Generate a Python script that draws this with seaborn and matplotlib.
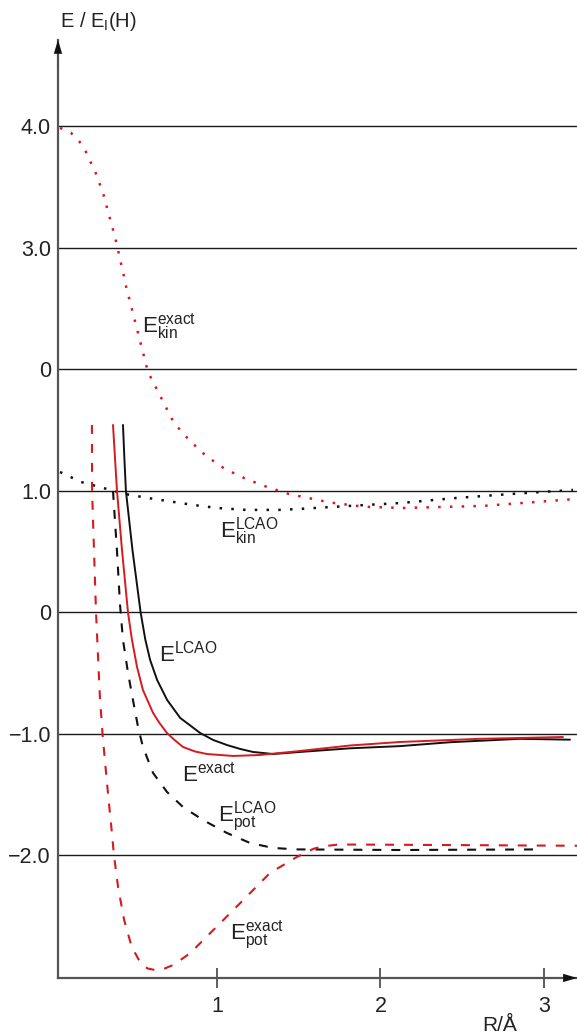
import matplotlib
matplotlib.use('Agg')
import matplotlib.pyplot as plt
import seaborn as sns

# ---------------- data ----------------
# R in Angstrom, E in units of E_I(H)
ekin_exact_r = [0.040, 0.107, 0.156, 0.193, 0.223, 0.254, 0.278, 0.303, 0.321, 0.339, 0.358, 0.376,
                0.394, 0.407, 0.425, 0.437, 0.578, 0.737, 0.829, 0.933, 1.049, 1.177, 1.306, 1.440,
                1.691, 1.900, 2.138, 2.630, 3.196]
ekin_exact_e = [3.988, 3.947, 3.881, 3.807, 3.716, 3.634, 3.543, 3.453, 3.362, 3.272, 3.181, 3.091,
                2.992, 2.901, 2.811, 2.720, 1.979, 1.560, 1.420, 1.288, 1.181, 1.099, 1.033, 0.975,
                0.905, 0.870, 0.860, 0.877, 0.934]

ekin_lcao_r = [0.040, 0.168, 0.303, 0.437, 0.578, 0.737, 0.853, 1.000, 1.177, 1.379, 1.502,
               1.813, 2.125, 2.462, 2.798, 3.178]
ekin_lcao_e = [1.156, 1.074, 1.025, 0.975, 0.942, 0.909, 0.885, 0.860, 0.844, 0.844, 0.852,
               0.877, 0.901, 0.942, 0.975, 1.008]

e_lcao_r = [0.425, 0.434, 0.443, 0.483, 0.533, 0.562, 0.591, 0.634, 0.695, 0.775, 0.897, 0.976,
            1.061, 1.141, 1.220, 1.343, 1.508, 1.813, 2.119, 2.425, 2.853, 3.159]
e_lcao_e = [1.543, 1.255, 1.000, 0.514, 0.000, -0.226, -0.391, -0.556, -0.720, -0.868, -0.992,
            -1.049, -1.091, -1.123, -1.148, -1.165, -1.148, -1.118, -1.100, -1.068, -1.040, -1.047]

e_exact_r = [0.364, 0.388, 0.419, 0.456, 0.480, 0.511, 0.547, 0.609, 0.648, 0.694, 0.740, 0.792,
             0.865, 0.939, 1.098, 1.263, 1.508, 1.813, 2.119, 2.608, 3.116]
e_exact_e = [1.543, 1.008, 0.514, -0.004, -0.226, -0.449, -0.638, -0.827, -0.909, -0.992, -1.049,
             -1.107, -1.144, -1.165, -1.181, -1.173, -1.140, -1.095, -1.066, -1.040, -1.025]

epot_lcao_r = [0.364, 0.388, 0.407, 0.425, 0.456, 0.486, 0.517, 0.547, 0.609, 0.694, 0.792, 0.914,
               1.061, 1.202, 1.343, 1.489, 2.119, 2.994]
epot_lcao_e = [1.000, 0.514, 0.062, -0.226, -0.498, -0.720, -0.942, -1.107, -1.321, -1.477, -1.601,
               -1.708, -1.815, -1.897, -1.938, -1.950, -1.955, -1.950]

epot_exact_r = [0.235, 0.236, 0.248, 0.260, 0.272, 0.284, 0.300, 0.318, 0.337, 0.354, 0.370, 0.395,
                0.432, 0.478, 0.530, 0.575, 0.630, 0.680, 0.733, 0.835, 0.937, 1.039, 1.161, 1.324,
                1.489, 1.590, 1.648, 1.730, 1.813, 2.119, 3.202]
epot_exact_e = [1.543, 1.008, 0.500, 0.004, -0.350, -0.700, -1.000, -1.270, -1.540, -1.770, -2.000,
                -2.260, -2.530, -2.750, -2.880, -2.930, -2.945, -2.930, -2.901, -2.805, -2.668,
                -2.531, -2.366, -2.144, -2.012, -1.945, -1.925, -1.912, -1.910, -1.912, -1.920]

y_ticks = [4, 3, 2, 1, 0, -1, -2]
y_tick_labels = ['4.0', '3.0', '0', '1.0', '0', '\u22121.0', '\u22122.0']
x_ticks = [1, 2, 3]
x_tick_labels = ['1', '2', '3']

# ---------------- style ----------------
sns.set_theme(style='white')
plt.rcParams['font.family'] = ['Liberation Sans', 'DejaVu Sans']
plt.rcParams['mathtext.fontset'] = 'custom'
plt.rcParams['mathtext.rm'] = 'Liberation Sans'
plt.rcParams['mathtext.it'] = 'Liberation Sans'
plt.rcParams['mathtext.bf'] = 'Liberation Sans:bold'
plt.rcParams['mathtext.sf'] = 'Liberation Sans'

RED = '#d71920'
BLACK = '#111111'
AXC = '#555555'

fig = plt.figure(figsize=(5.77, 10.34), dpi=100)
ax = fig.add_axes([0.1005, 0.0542, 0.8995, 0.9072])
ax.set_xlim(0.0275, 3.202)
ax.set_ylim(-3.008, 4.712)

dot = (0, (1.0, 3.7))
dash = (0, (4.3, 4.8))

sns.lineplot(x=ekin_exact_r, y=ekin_exact_e, ax=ax, color=RED, lw=1.8,
             linestyle=dot, dash_capstyle='butt', estimator=None, sort=False)
sns.lineplot(x=ekin_lcao_r, y=ekin_lcao_e, ax=ax, color=BLACK, lw=1.8,
             linestyle=dot, dash_capstyle='butt', estimator=None, sort=False)
sns.lineplot(x=e_lcao_r, y=e_lcao_e, ax=ax, color=BLACK, lw=1.4,
             estimator=None, sort=False)
sns.lineplot(x=e_exact_r, y=e_exact_e, ax=ax, color=RED, lw=1.4,
             estimator=None, sort=False)
sns.lineplot(x=epot_lcao_r, y=epot_lcao_e, ax=ax, color=BLACK, lw=1.5,
             linestyle=dash, dash_capstyle='butt', estimator=None, sort=False)
sns.lineplot(x=epot_exact_r, y=epot_exact_e, ax=ax, color=RED, lw=1.5,
             linestyle=dash, dash_capstyle='butt', estimator=None, sort=False)

# grid lines at the labelled energies
ax.set_axisbelow(True)
ax.yaxis.grid(True, color='#1a1a1a', lw=1.0)
ax.xaxis.grid(False)

ax.set_yticks(y_ticks)
ax.set_yticklabels(y_tick_labels)
ax.set_xticks(x_ticks)
ax.set_xticklabels(x_tick_labels)
ax.tick_params(axis='y', left=False, length=0, pad=5, labelsize=15.5, labelcolor='#222222')
ax.tick_params(axis='x', bottom=True, direction='inout', length=14, width=1.1,
               color='#333333', pad=6, labelsize=15.5, labelcolor='#222222')

for s in ['top', 'right']:
    ax.spines[s].set_visible(False)
for s in ['left', 'bottom']:
    ax.spines[s].set_color(AXC)
    ax.spines[s].set_linewidth(1.6)

ax.set_xlabel('')
ax.set_ylabel('')

# axis arrows
ax.annotate('', xy=(0, 1), xytext=(0, 0.97), xycoords='axes fraction',
            arrowprops=dict(width=0.1, headwidth=6, headlength=10, color='#111111', lw=0),
            annotation_clip=False)
ax.annotate('', xy=(1, 0), xytext=(0.97, 0), xycoords='axes fraction',
            arrowprops=dict(width=0.1, headwidth=6, headlength=10, color='#111111', lw=0),
            annotation_clip=False)

# curve labels
fs = 16
ax.text(0.541, 2.30, r'$\mathrm{E^{exact}_{kin}}$', fontsize=fs, color='#222222', va='baseline')
ax.text(1.018, 0.613, r'$\mathrm{E^{LCAO}_{kin}}$', fontsize=fs, color='#222222', va='baseline')
ax.text(0.645, -0.407, r'$\mathrm{E^{LCAO}}$', fontsize=fs, color='#222222', va='baseline')
ax.text(0.786, -1.395, r'$\mathrm{E^{exact}}$', fontsize=fs, color='#222222', va='baseline')
ax.text(1.006, -1.724, r'$\mathrm{E^{LCAO}_{pot}}$', fontsize=fs, color='#222222', va='baseline')
ax.text(1.080, -2.695, r'$\mathrm{E^{exact}_{pot}}$', fontsize=fs, color='#222222', va='baseline')

# axis titles
fig.text(60 / 577, 1 - 27 / 1034, r'E / E$_\mathrm{I}$(H)', fontsize=14.5, color='#222222',
         ha='left', va='baseline')
fig.text(500 / 577, 3 / 1034, 'R/Å', fontsize=15, color='#222222', ha='center', va='baseline')

fig.savefig('out.png', dpi=100)
